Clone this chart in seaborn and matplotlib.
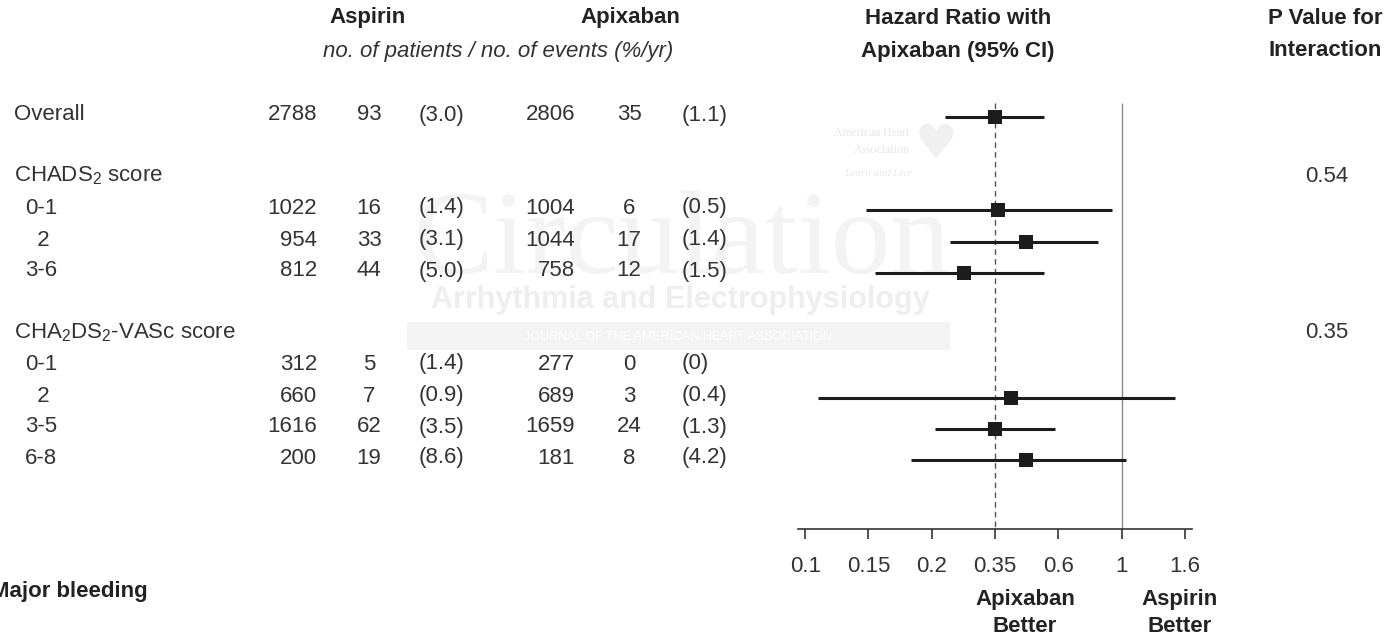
import numpy as np
import pandas as pd
import matplotlib
matplotlib.use("Agg")
import matplotlib.pyplot as plt
import seaborn as sns

# ---- subgroup table -------------------------------------------------------
labels = ["Overall",
          "CHADS$_\\mathregular{2}$ score", "0-1", "  2", "3-6",
          "CHA$_\\mathregular{2}$DS$_\\mathregular{2}$-VASc score", "0-1", "  2", "3-5", "6-8"]
is_header = [False, True, False, False, False, True, False, False, False, False]
indent = [False, False, True, True, True, False, True, True, True, True]

asp_n = ["2788", "", "1022", "954", "812", "", "312", "660", "1616", "200"]
asp_ev = ["93", "", "16", "33", "44", "", "5", "7", "62", "19"]
asp_rate = ["(3.0)", "", "(1.4)", "(3.1)", "(5.0)", "", "(1.4)", "(0.9)", "(3.5)", "(8.6)"]
apx_n = ["2806", "", "1004", "1044", "758", "", "277", "689", "1659", "181"]
apx_ev = ["35", "", "6", "17", "12", "", "0", "3", "24", "8"]
apx_rate = ["(1.1)", "", "(0.5)", "(1.4)", "(1.5)", "", "(0)", "(0.4)", "(1.3)", "(4.2)"]

# hazard ratios (apixaban vs aspirin) with 95% CI; NaN where not estimable
hr = [0.39, np.nan, 0.40, 0.49, 0.31, np.nan, np.nan, 0.44, 0.39, 0.49]
ci_lo = [0.27, np.nan, 0.15, 0.28, 0.16, np.nan, np.nan, 0.105, 0.25, 0.21]
ci_hi = [0.56, np.nan, 0.93, 0.84, 0.56, np.nan, np.nan, 1.49, 0.61, 1.03]

p_interaction = ["", "0.54", "", "", "", "0.35", "", "", "", ""]

tick_values = [1.6 ** k for k in range(-5, 2)]
tick_labels = ["0.1", "0.15", "0.2", "0.35", "0.6", "1", "1.6"]

# ---- layout (figure pixel units, y downward) -----------------------------
W, H = 1397, 639
row_y = [115, 176, 208, 240, 271, 333, 364, 396, 427, 458]
axis_y = 529

sns.set_theme(style="white")
plt.rcParams["font.family"] = ["Liberation Sans", "DejaVu Sans"]
plt.rcParams["mathtext.fontset"] = "custom"
plt.rcParams["mathtext.rm"] = "Liberation Sans"

TXT = "#333333"
BOLD = "#222222"
FS = 16

fig = plt.figure(figsize=(W / 100, H / 100), dpi=100)
fig.patch.set_facecolor("white")

bg = fig.add_axes([0, 0, 1, 1], zorder=0)
bg.set_xlim(0, W)
bg.set_ylim(H, 0)
bg.axis("off")

# faint journal watermark behind the plot
wm = "#f3f3f3"
bg.text(682, 273, "Circulation", family="Liberation Serif", fontsize=86,
        color=wm, ha="center", va="baseline", zorder=0)
bg.text(680, 300, "Arrhythmia and Electrophysiology", fontsize=22,
        fontweight="bold", color="#eeeeee", ha="center", va="center", zorder=0)
bg.add_patch(plt.Rectangle((407, 322), 543, 28, color="#f3f3f3", lw=0, zorder=0))
bg.text(678, 337, "JOURNAL OF THE AMERICAN HEART ASSOCIATION", fontsize=9,
        color="white", ha="center", va="center", zorder=1)
bg.text(910, 133, "American Heart", family="Liberation Serif", fontsize=8.5,
        color="#e6e6e6", ha="right", va="center")
bg.text(910, 150, "Association", family="Liberation Serif", fontsize=8.5,
        color="#e6e6e6", ha="right", va="center")
bg.text(878, 173, "Learn and Live", family="Liberation Serif", style="italic",
        fontsize=8, color="#eaeaea", ha="center", va="center")
bg.text(936, 146, "\u2665", family="DejaVu Sans", fontsize=34,
        color="#f0f0f0", ha="center", va="center")

# column headers
bg.text(368, 18, "Aspirin", fontsize=FS, fontweight="bold", color=BOLD, ha="center", va="center")
bg.text(630, 18, "Apixaban", fontsize=FS, fontweight="bold", color=BOLD, ha="center", va="center")
bg.text(498, 51, "no. of patients / no. of events (%/yr)", fontsize=FS, style="italic",
        color=TXT, ha="center", va="center")
bg.text(958, 18, "Hazard Ratio with", fontsize=FS, fontweight="bold", color=BOLD, ha="center", va="center")
bg.text(958, 51, "Apixaban (95% CI)", fontsize=FS, fontweight="bold", color=BOLD, ha="center", va="center")
bg.text(1268, 18, "P Value for", fontsize=FS, fontweight="bold", color=BOLD, ha="left", va="center")
bg.text(1268, 51, "Interaction", fontsize=FS, fontweight="bold", color=BOLD, ha="left", va="center")

# table body
for i, y in enumerate(row_y):
    x0 = 25 if indent[i] else 14
    bg.text(x0, y, labels[i], fontsize=FS, color=TXT, ha="left", va="center")
    bg.text(317, y, asp_n[i], fontsize=FS, color=TXT, ha="right", va="center")
    bg.text(369, y, asp_ev[i], fontsize=FS, color=TXT, ha="center", va="center")
    bg.text(419, y, asp_rate[i], fontsize=FS, color=TXT, ha="left", va="center")
    bg.text(575, y, apx_n[i], fontsize=FS, color=TXT, ha="right", va="center")
    bg.text(629, y, apx_ev[i], fontsize=FS, color=TXT, ha="center", va="center")
    bg.text(682, y, apx_rate[i], fontsize=FS, color=TXT, ha="left", va="center")
    bg.text(1327, y, p_interaction[i], fontsize=FS, color=TXT, ha="center", va="center")

bg.text(-9, 592, "Major bleeding", fontsize=FS, fontweight="bold", color=BOLD,
        ha="left", va="center")
bg.text(1025, 600, "Apixaban", fontsize=FS, fontweight="bold", color=BOLD, ha="center", va="center")
bg.text(1025, 627, "Better", fontsize=FS, fontweight="bold", color=BOLD, ha="center", va="center")
bg.text(1180, 600, "Aspirin", fontsize=FS, fontweight="bold", color=BOLD, ha="center", va="center")
bg.text(1180, 627, "Better", fontsize=FS, fontweight="bold", color=BOLD, ha="center", va="center")

# ---- forest panel ---------------------------------------------------------
x_left, x_right = 797.7, 1191.7
ax = fig.add_axes([x_left / W, 1 - axis_y / H, (x_right - x_left) / W, axis_y / H], zorder=2)
ax.patch.set_alpha(0)
ax.set_xscale("log", base=1.6)
ax.set_xlim(1.6 ** -5.118, 1.6 ** 1.106)
ax.set_ylim(axis_y, 0)

df = pd.DataFrame({"row": row_y, "hr": hr, "lo": ci_lo, "hi": ci_hi}).dropna()
df["row"] = df["row"] + 2

ref_top = row_y[0] - 12
ax.vlines(1.0, ref_top, axis_y, color="#8a8a8a", lw=1.0, zorder=1)
ax.vlines(hr[0], ref_top, axis_y, color="#555555", lw=1.0, linestyles=(0, (4, 3)), zorder=1)

ax.hlines(df["row"], df["lo"], df["hi"], color="#1c1c1c", lw=2.2, zorder=2)
sns.scatterplot(data=df, x="hr", y="row", marker="s", s=100, color="#1c1c1c",
                edgecolor="none", ax=ax, zorder=3, legend=False)

for side in ["top", "left", "right"]:
    ax.spines[side].set_visible(False)
ax.spines["bottom"].set_color("#333333")
ax.spines["bottom"].set_linewidth(1.2)
ax.set_yticks([])
ax.set_xticks(tick_values)
ax.set_xticklabels(tick_labels)
ax.xaxis.set_minor_locator(matplotlib.ticker.NullLocator())
ax.tick_params(axis="x", which="major", direction="out", length=7.5, width=1.2,
               color="#333333", labelsize=FS, labelcolor=TXT, pad=12, bottom=True)
ax.set_xlabel("")
ax.set_ylabel("")

fig.savefig("out.png", dpi=100, facecolor="white")
